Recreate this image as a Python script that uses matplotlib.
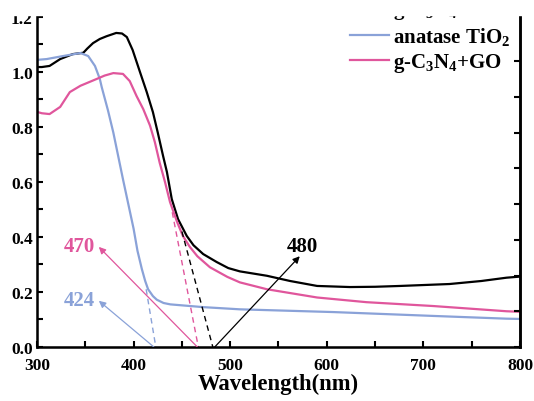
import matplotlib
matplotlib.use("Agg")
import matplotlib.pyplot as plt
from matplotlib.patches import Rectangle
from matplotlib.ticker import MultipleLocator

plt.rcParams["font.family"] = ["Liberation Serif", "DejaVu Serif"]
plt.rcParams["font.weight"] = "bold"
plt.rcParams["mathtext.fontset"] = "custom"
plt.rcParams["mathtext.rm"] = "Liberation Serif:bold"
plt.rcParams["mathtext.it"] = "Liberation Serif:bold"
plt.rcParams["mathtext.bf"] = "Liberation Serif:bold"
plt.rcParams["mathtext.default"] = "rm"

BLUE = "#8aa2d8"
PINK = "#e0569c"

# composite (black)
wl_comp = [300, 305, 313, 324, 337, 348, 352, 358, 365, 372, 382, 388, 393, 399,
           406.6, 413.6, 420, 425, 430.5, 434.5, 439.5, 446, 455, 462, 472, 486,
           498, 510, 538, 562, 590, 624, 650, 676, 727, 760, 786, 800]
abs_comp = [1.018, 1.018, 1.022, 1.047, 1.065, 1.07, 1.085, 1.105, 1.12, 1.13,
            1.142, 1.14, 1.127, 1.08, 1.0, 0.927, 0.854, 0.78, 0.695, 0.636,
            0.538, 0.465, 0.404, 0.37, 0.338, 0.309, 0.287, 0.275, 0.259, 0.24,
            0.222, 0.218, 0.219, 0.222, 0.229, 0.24, 0.252, 0.256]

# anatase TiO2
wl_tio2 = [300, 310, 327, 345, 353, 360, 365, 367, 373.5, 379, 389, 400, 404,
           408.5, 412, 415, 420, 424, 431, 438, 472, 510, 607, 710, 786, 800]
abs_tio2 = [1.044, 1.047, 1.058, 1.069, 1.058, 1.022, 0.975, 0.945, 0.86, 0.78,
            0.61, 0.43, 0.35, 0.284, 0.24, 0.21, 0.185, 0.172, 0.16, 0.155,
            0.145, 0.137, 0.127, 0.113, 0.103, 0.102]

# g-C3N4+GO
wl_cngo = [300, 305, 313, 324, 334, 345, 362, 370, 379, 389, 396, 403, 410, 417,
           422, 427, 432.5, 437.7, 445, 451, 458, 466, 479, 497, 510, 538, 590,
           641, 710, 786, 800]
abs_cngo = [0.855, 0.85, 0.847, 0.873, 0.927, 0.95, 0.975, 0.987, 0.996, 0.993,
            0.967, 0.913, 0.865, 0.805, 0.745, 0.67, 0.60, 0.527, 0.455, 0.404,
            0.365, 0.33, 0.29, 0.255, 0.235, 0.21, 0.18, 0.163, 0.149, 0.13,
            0.128]

# tangent lines (wavelength, absorbance) pairs
tan_tio2 = ([413, 423], [0.21, 0.0])
tan_cngo = ([440, 467], [0.49, 0.0])
tan_comp = ([450, 482], [0.42, 0.0])

# band-edge annotations: text, text pos, arrow tail, arrow head
edges = [
    ("424", (343.5, 0.17), (421, 0.0), (364, 0.168), BLUE),
    ("470", (343.5, 0.367), (466, 0.0), (364, 0.364), PINK),
    ("480", (575, 0.367), (484, 0.0), (572, 0.33), "black"),
]

W, H = 534, 402
fig = plt.figure(figsize=(W / 100, H / 100), dpi=100)
ax = fig.add_axes([37 / W, (H - 348) / H, (520 - 37) / W, (348 - 17) / H])

l_comp, = ax.plot(wl_comp, abs_comp, color="black", lw=1.6)
l_tio2, = ax.plot(wl_tio2, abs_tio2, color=BLUE, lw=1.6)
l_cngo, = ax.plot(wl_cngo, abs_cngo, color=PINK, lw=1.6)

ax.plot(*tan_tio2, color=BLUE, lw=1.0, ls=(0, (4, 3)))
ax.plot(*tan_cngo, color=PINK, lw=1.0, ls=(0, (4, 3)))
ax.plot(*tan_comp, color="black", lw=1.0, ls=(0, (4, 3)))

for txt, tpos, tail, head, col in edges:
    ax.annotate("", xy=head, xytext=tail,
                arrowprops=dict(arrowstyle="-|>", color=col, lw=0.9,
                                mutation_scale=10, shrinkA=0, shrinkB=0))
    ax.text(*tpos, txt, color=col, fontsize=15, fontweight="bold",
            ha="center", va="center")

ax.set_xlim(300, 800)
ax.set_ylim(0, 1.2036)
ax.xaxis.set_major_locator(MultipleLocator(100))
ax.xaxis.set_minor_locator(MultipleLocator(50))
ax.yaxis.set_major_locator(MultipleLocator(0.2))
ax.yaxis.set_minor_locator(MultipleLocator(0.1))
ax.yaxis.set_major_formatter(lambda v, p: f"{v:.1f}")
ax.tick_params(which="both", direction="in", length=4.5, width=1.5,
               labelsize=12.5, top=False, right=False)
ax.tick_params(axis="x", pad=7)
ax.tick_params(axis="y", pad=3)
ax.spines["top"].set_visible(False)
for s in ("left", "bottom", "right"):
    ax.spines[s].set_linewidth(1.8)
ax.set_xlabel("Wavelength(nm)", fontsize=16.3, fontweight="bold", labelpad=0)

ax2 = ax.twinx()
ax2.set_ylim(0, 9.26)
ax2.set_yticks(range(0, 9))
ax2.tick_params(direction="in", length=4, width=1.5, labelright=False)
ax2.spines["top"].set_visible(False)
ax2.spines["right"].set_linewidth(1.8)

ax.legend([l_comp, l_tio2, l_cngo],
          ["g-C$_3$N$_4$+GO/TiO$_2$", "anatase TiO$_2$", "g-C$_3$N$_4$+GO"],
          loc="upper left", bbox_to_anchor=(350 / W, 1 + 2 / H),
          bbox_transform=fig.transFigure, frameon=False, fontsize=15,
          handlelength=1.85, handletextpad=0.2, labelspacing=0.2,
          borderpad=0, borderaxespad=0)

fig.add_artist(Rectangle((0, 1 - 16 / H), 1, 16 / H, transform=fig.transFigure,
                         color="white", zorder=10))

fig.savefig("out.png", dpi=100)
